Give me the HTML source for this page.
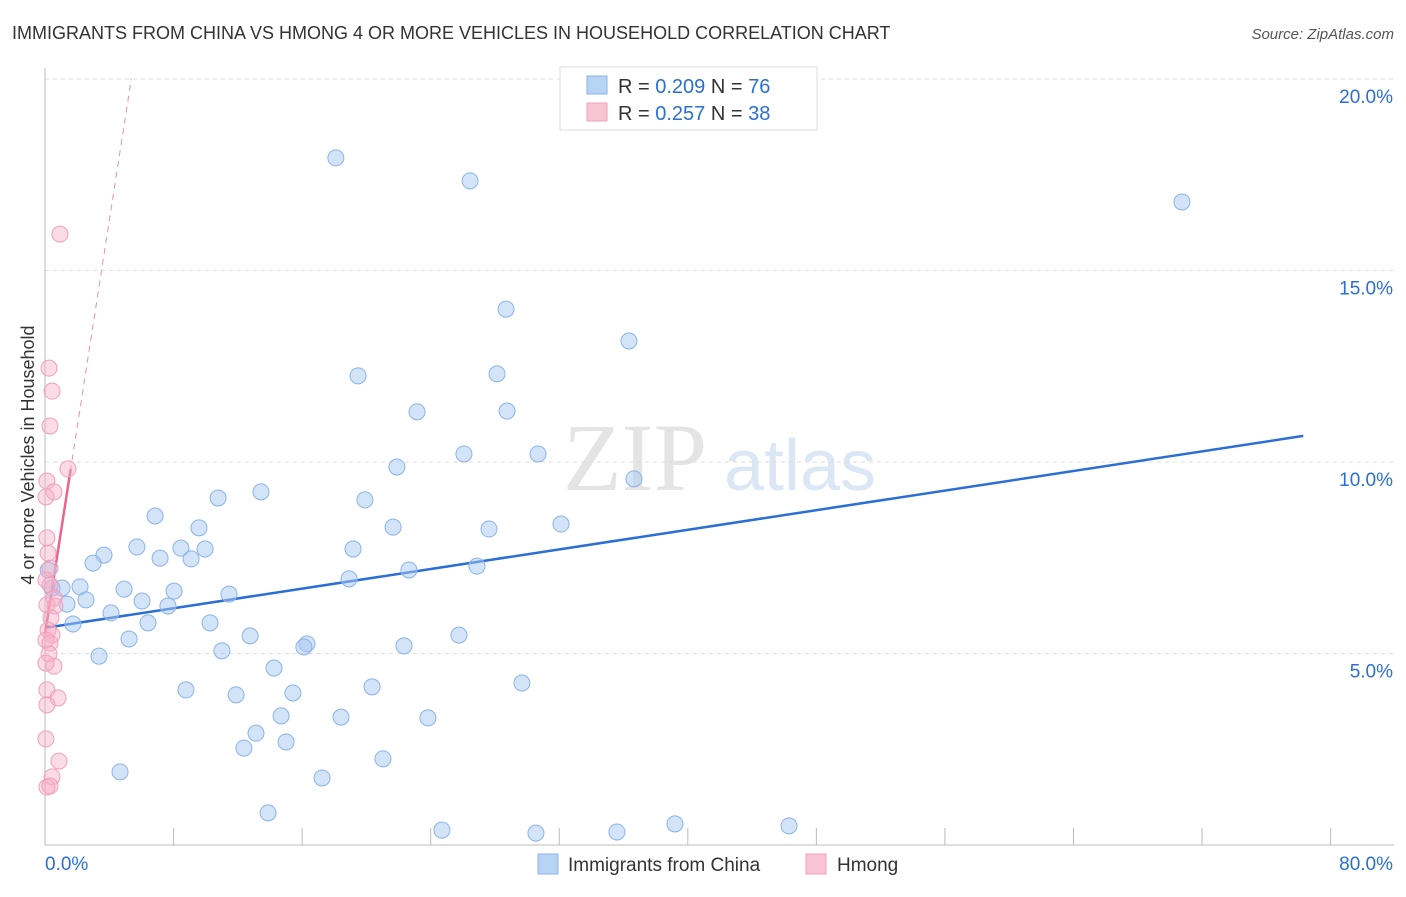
<!DOCTYPE html>
<html><head><meta charset="utf-8"><style>
body{margin:0;background:#fff;font-family:"Liberation Sans",sans-serif}
</style></head><body>
<svg id="chart" width="1406" height="892" xmlns="http://www.w3.org/2000/svg" font-family="Liberation Sans, sans-serif">
<text x="12" y="39" font-size="18" fill="#333">IMMIGRANTS FROM CHINA VS HMONG 4 OR MORE VEHICLES IN HOUSEHOLD CORRELATION CHART</text>
<text x="1394" y="39" font-size="15" fill="#555" text-anchor="end" font-style="italic">Source: ZipAtlas.com</text>
<text transform="translate(34,455) rotate(-90)" font-size="18" fill="#333" text-anchor="middle">4 or more Vehicles in Household</text>
<g>
<text x="635" y="490" font-size="96" fill="#e4e4e4" font-family="Liberation Serif, serif" text-anchor="middle">ZIP</text>
<text x="800" y="490" font-size="72" fill="#dbe7f5" text-anchor="middle">atlas</text>
</g>
<g id="grid"></g><g id="axes"></g><g id="lines"></g><g id="pts"></g>
<g>
<rect x="560" y="67" width="257" height="63" fill="#fff" stroke="#ddd"/>
<rect x="587" y="76" width="20" height="18" fill="#b8d4f4" stroke="#8ab4e8"/>
<rect x="587" y="103" width="20" height="18" fill="#f8c4d4" stroke="#f0a0ba"/>
<text x="618" y="93" font-size="20" fill="#333">R = <tspan fill="#2b6fd6">0.209</tspan>   N = <tspan fill="#2b6fd6">76</tspan></text>
<text x="618" y="120" font-size="20" fill="#333">R = <tspan fill="#2b6fd6">0.257</tspan>   N = <tspan fill="#2b6fd6">38</tspan></text>
</g>
<g>
<rect x="538" y="854" width="20" height="20" fill="#b8d4f4" stroke="#8ab4e8"/>
<text x="568" y="871" font-size="19" fill="#333">Immigrants from China</text>
<rect x="806" y="854" width="20" height="20" fill="#f8c4d4" stroke="#f0a0ba"/>
<text x="837" y="871" font-size="19" fill="#333">Hmong</text>
</g>
</svg>
<script>
const blueX=[18.1,26.45,70.75,28.69,36.34,19.48,28.13,23.15,28.75,26.07,30.68,21.9,36.65,13.44,10.77,19.91,6.85,32.11,21.66,27.63,9.58,5.72,8.46,9.96,19.17,3.67,7.16,9.09,2.99,26.88,22.65,18.92,0.44,0.2,1.06,2.18,4.92,8.03,11.45,2.55,1.37,6.04,4.11,7.65,1.74,6.41,10.27,12.76,5.23,16.3,16.11,25.76,22.34,3.36,11.01,14.25,8.77,11.89,15.43,20.35,29.68,14.69,18.42,23.83,13.13,15.0,12.38,21.03,4.67,17.24,13.88,24.7,30.55,35.59,39.2,46.3];
const blueY=[17.94,17.34,16.79,13.99,13.16,12.25,12.3,11.31,11.33,10.21,10.21,9.87,9.56,9.22,9.06,9.01,8.59,8.38,8.3,8.25,8.28,7.78,7.75,7.73,7.73,7.57,7.49,7.47,7.36,7.28,7.18,6.95,6.71,7.18,6.71,6.74,6.68,6.63,6.55,6.4,6.29,6.37,6.06,6.24,5.77,5.8,5.8,5.46,5.38,5.25,5.17,5.48,5.2,4.93,5.07,4.62,4.05,3.92,3.97,4.13,4.23,3.37,3.34,3.32,2.92,2.69,2.53,2.25,1.91,1.75,0.84,0.39,0.31,0.34,0.55,0.5];
const pinkX=[0.93,0.25,0.44,0.31,1.43,0.12,0.56,0.06,0.12,0.19,0.31,0.06,0.31,0.56,0.12,0.62,0.37,0.19,0.44,0.06,0.31,0.25,0.56,0.06,0.12,0.81,0.12,0.06,0.87,0.44,0.12,0.31];
const pinkY=[15.95,12.45,11.85,10.94,9.82,9.5,9.22,9.09,8.02,7.62,7.23,6.92,6.79,6.45,6.27,6.24,5.93,5.61,5.48,5.35,5.27,4.99,4.67,4.75,4.05,3.84,3.66,2.77,2.19,1.78,1.51,1.54];
const yTicks=[5,10,15,20];
const yTickLabels=["5.0%","10.0%","15.0%","20.0%"];
const xTicks=[0,8,16,24,32,40,48,56,64,72,80];
const blueFit=[5.67,0.064];
const pinkFit=[5.5,2.7];
const NS="http://www.w3.org/2000/svg";
const sx=v=>45+v*16.07, sy=v=>845-v*38.3;
function mk(tag,attrs,parent){const e=document.createElementNS(NS,tag);for(const k in attrs)e.setAttribute(k,attrs[k]);document.getElementById(parent).appendChild(e);return e;}
yTicks.forEach((t,i)=>{
 const l=mk('line',{x1:45,x2:1394,y1:sy(t),y2:sy(t),stroke:'#ddd','stroke-dasharray':'4,4'},'grid');
 
 
 const tx=mk('text',{x:1393,y:sy(t)+24,'font-size':19,fill:'#2b6fd6','text-anchor':'end'},'grid');
 tx.textContent=yTickLabels[i];
 
 
});
const xa=mk('line',{x1:45,x2:1394,y1:845,y2:845,stroke:'#bbb'},'axes');


const ya=mk('line',{x1:45,x2:45,y1:68,y2:845,stroke:'#bbb'},'axes');


xTicks.forEach(t=>{const l=mk('line',{x1:sx(t),x2:sx(t),y1:828,y2:845,stroke:'#bbb'},'axes');
 
 });
[["0.0%",45,'start'],["80.0%",1393,'end']].forEach(a=>{const t=mk('text',{x:a[1],y:870,'font-size':19,fill:'#2b6fd6','text-anchor':a[2]},'axes');t.textContent=a[0];
 
 });
blueX.forEach((x,i)=>{const c=mk('circle',{cx:sx(x),cy:sy(blueY[i]),r:8,fill:'rgba(168,200,242,0.5)',stroke:'#8ab4e8','stroke-width':1},'pts');
 
 });
pinkX.forEach((x,i)=>{const c=mk('circle',{cx:sx(x),cy:sy(pinkY[i]),r:8,fill:'rgba(246,176,200,0.45)',stroke:'#f0a0ba','stroke-width':1},'pts');
 
 });
const bl=mk('line',{x1:sx(0),y1:sy(blueFit[0]),x2:sx(78.3),y2:sy(blueFit[0]+blueFit[1]*78.3),stroke:'#2b6fd6','stroke-width':2.5},'lines');


const xe=(20-pinkFit[0])/pinkFit[1];
const pd=mk('line',{x1:sx(0),y1:sy(pinkFit[0]),x2:sx(xe),y2:sy(20),stroke:'#e890ac','stroke-width':1,'stroke-dasharray':'6,5'},'lines');


const ps=mk('line',{x1:sx(0),y1:sy(pinkFit[0]),x2:sx(1.6),y2:sy(pinkFit[0]+pinkFit[1]*1.6),stroke:'#e8668e','stroke-width':2.5},'lines');


</script>
</body></html>
